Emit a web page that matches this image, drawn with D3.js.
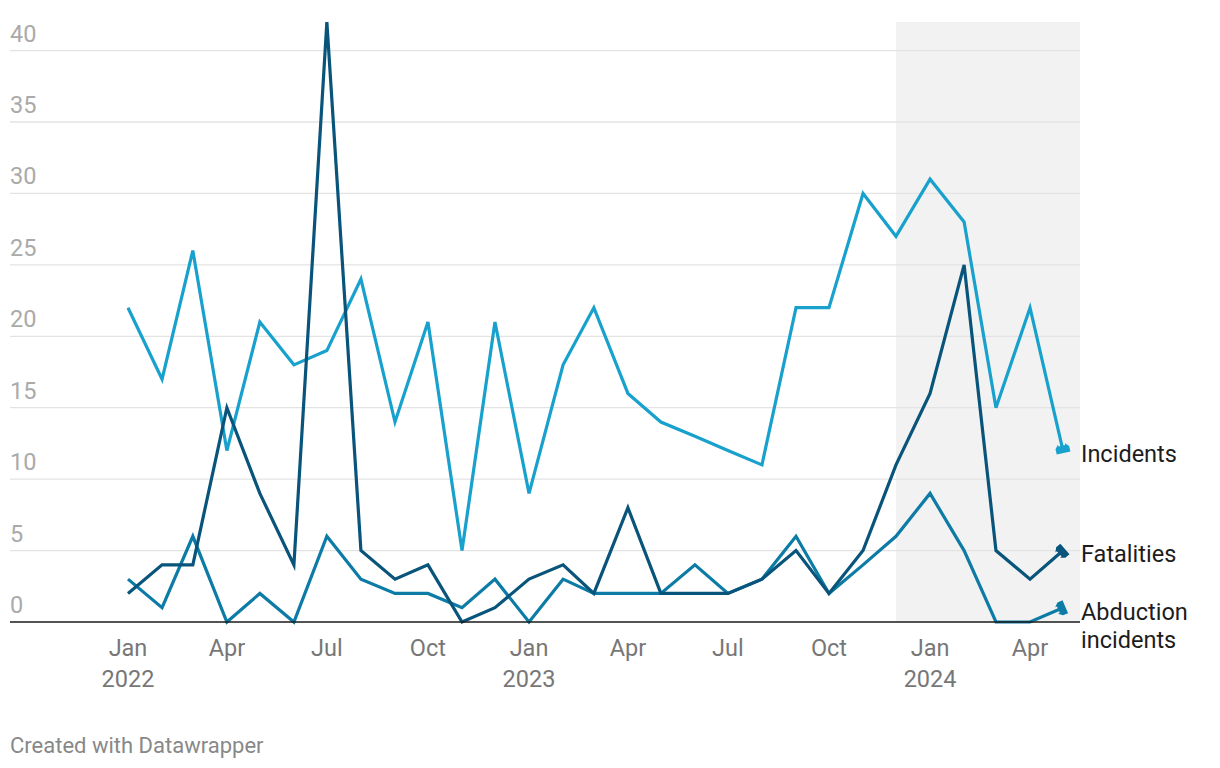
<!DOCTYPE html>
<html>
<head>
<meta charset="utf-8">
<script src="https://cdn.jsdelivr.net/npm/d3@7"></script>
<style>
  html, body { margin: 0; padding: 0; background: #fff; }
  svg { display: block; font-family: Roboto, "Noto Sans", sans-serif; }
</style>
</head>
<body>
<svg id="chart" width="1220" height="768"></svg>
<script>
const months = ["2022-01","2022-02","2022-03","2022-04","2022-05","2022-06","2022-07","2022-08","2022-09","2022-10","2022-11","2022-12",
  "2023-01","2023-02","2023-03","2023-04","2023-05","2023-06","2023-07","2023-08","2023-09","2023-10","2023-11","2023-12",
  "2024-01","2024-02","2024-03","2024-04","2024-05"];
const incidents  = [22,17,26,12,21,18,19,24,14,21,5,21, 9,18,22,16,14,13,12,11,22,22,30,27, 31,28,15,22,12];
const fatalities = [2,4,4,15,9,4,42,5,3,4,0,1, 3,4,2,8,2,2,2,3,5,2,5,11, 16,25,5,3,5];
const abductions = [3,1,6,0,2,0,6,3,2,2,1,3, 0,3,2,2,2,4,2,3,6,2,4,6, 9,5,0,0,1];
const seriesNames = ["Incidents","Fatalities","Abduction incidents"];
const seriesColors = ["#18a1cd","#09547a","#0c7ba6"];
const yTicks = [0,5,10,15,20,25,30,35,40];
const highlightStart = "2023-12";
const creditText = "Created with Datawrapper";

const parse = d3.timeParse("%Y-%m");
const dates = months.map(parse);
const svg = d3.select("#chart");

const pLeft = 10, pRight = 1080, pTop = 22, pBottom = 622;
const x = d3.scaleTime().domain([dates[0], dates[dates.length-1]]).range([128, 1063]);
const y = d3.scaleLinear().domain([0, 42]).range([pBottom, pTop]);

// highlight band
svg.append("rect")
  .attr("x", x(parse(highlightStart))).attr("y", pTop)
  .attr("width", pRight - x(parse(highlightStart))).attr("height", pBottom - pTop)
  .attr("fill", "#f2f2f2");

// gridlines
const grid = svg.append("g");
yTicks.filter(t => t > 0).forEach(t => {
  grid.append("line").attr("x1", pLeft).attr("x2", pRight)
    .attr("y1", y(t)).attr("y2", y(t))
    .attr("stroke", "#e3e3e3").attr("stroke-width", 1.3);
});
// y labels
yTicks.forEach(t => {
  svg.append("text").attr("x", pLeft).attr("y", y(t) - 9)
    .attr("fill", "#aaaaaa").attr("font-size", 23.5).text(t);
});

// x axis labels
const xTicks = d3.timeMonth.every(3).range(dates[0], d3.timeMonth.offset(dates[dates.length-1], 1));
const fmtM = d3.timeFormat("%b"), fmtY = d3.timeFormat("%Y");
xTicks.forEach(d => {
  const g = svg.append("text").attr("x", x(d)).attr("y", 656)
    .attr("text-anchor", "middle").attr("fill", "#777777").attr("font-size", 23.5);
  g.append("tspan").attr("x", x(d)).text(fmtM(d));
  if (d.getMonth() === 0) g.append("tspan").attr("x", x(d)).attr("dy", 31).text(fmtY(d));
});

// lines
const allSeries = [incidents, fatalities, abductions];
const line = d3.line().x((d, i) => x(dates[i])).y(d => y(d));
[0, 2, 1].forEach(si => {
  svg.append("path").datum(allSeries[si])
    .attr("d", line).attr("fill", "none")
    .attr("stroke", seriesColors[si]).attr("stroke-width", 3.2)
    .attr("stroke-linejoin", "miter").attr("stroke-miterlimit", 4);
});

// baseline
svg.append("line").attr("x1", pLeft).attr("x2", pRight).attr("y1", pBottom).attr("y2", pBottom)
  .attr("stroke", "#1a1a1a").attr("stroke-width", 1.6);

// end markers
allSeries.forEach((vals, si) => {
  const n = vals.length;
  const x1 = x(dates[n-1]), y1 = y(vals[n-1]);
  const x0 = x(dates[n-2]), y0 = y(vals[n-2]);
  const ang = Math.atan2(y1 - y0, x1 - x0) * 180 / Math.PI;
  svg.append("path")
    .attr("transform", `translate(${x1},${y1}) rotate(${ang})`)
    .attr("d", "M-5,-3.5 L-7,-3.5 L-3,-7 L2.5,-7 L2.5,7 L-3,7 L-7,3.5 L-5,3.5 Z")
    .attr("fill", seriesColors[si]);
});

// series labels
const lab = svg.append("g").attr("font-size", 23.5).attr("fill", "#1d1d1d");
lab.append("text").attr("x", 1081).attr("y", 462).text(seriesNames[0]);
lab.append("text").attr("x", 1081).attr("y", 562).text(seriesNames[1]);
const ab = lab.append("text").attr("x", 1081).attr("y", 620);
ab.append("tspan").attr("x", 1081).text("Abduction");
ab.append("tspan").attr("x", 1081).attr("dy", 28).text("incidents");

// credit
svg.append("text").attr("x", 10).attr("y", 753).attr("font-size", 22)
  .attr("fill", "#888888").text(creditText);
</script>
</body>
</html>
